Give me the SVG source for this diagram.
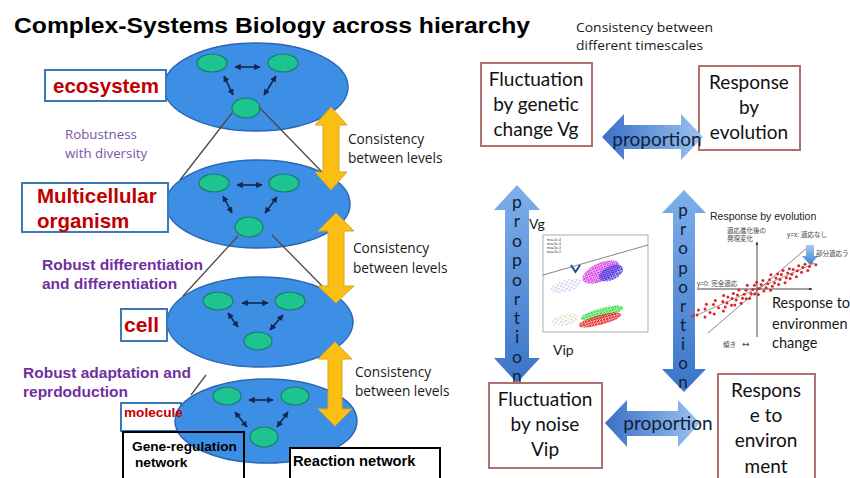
<svg xmlns="http://www.w3.org/2000/svg" width="850" height="478" viewBox="0 0 850 478">
<defs>
<marker id="ah" viewBox="0 0 10 10" refX="9" refY="5" markerWidth="4" markerHeight="4" orient="auto-start-reverse"><path d="M0,0 L10,5 L0,10 z" fill="#14264f"/></marker>
<marker id="axh" viewBox="0 0 10 10" refX="9" refY="5" markerWidth="4" markerHeight="4" orient="auto"><path d="M0,1 L10,5 L0,9 z" fill="#333"/></marker>
<linearGradient id="gh" x1="0" y1="0" x2="1" y2="0"><stop offset="0" stop-color="#3a6fc6"/><stop offset="1" stop-color="#9cc4ef"/></linearGradient>
<linearGradient id="gv" x1="0" y1="0" x2="0" y2="1"><stop offset="0" stop-color="#7eb0ea"/><stop offset="1" stop-color="#3a74c8"/></linearGradient>
<linearGradient id="gd" x1="0" y1="0" x2="0" y2="1"><stop offset="0" stop-color="#a8cdf0"/><stop offset="1" stop-color="#3b7fd0"/></linearGradient>
<pattern id="pMag" width="3" height="2.6" patternUnits="userSpaceOnUse"><rect x="0" y="0" width="2.1" height="1.8" fill="#e03ce0"/><rect x="1.5" y="1.3" width="2.1" height="1.8" fill="#c95ae8"/></pattern>
<pattern id="pBlu" width="3" height="2.6" patternUnits="userSpaceOnUse"><rect x="0" y="0" width="2.1" height="1.8" fill="#3b3ee0"/><rect x="1.5" y="1.3" width="2.1" height="1.8" fill="#6a4ae6"/></pattern>
<pattern id="pGrn" width="3" height="2.6" patternUnits="userSpaceOnUse"><rect x="0" y="0" width="2.1" height="1.8" fill="#2fdc3a"/><rect x="1.5" y="1.3" width="2.1" height="1.8" fill="#62e06a"/></pattern>
<pattern id="pRed" width="3" height="2.6" patternUnits="userSpaceOnUse"><rect x="0" y="0" width="2.1" height="1.8" fill="#e82020"/><rect x="1.5" y="1.3" width="2.1" height="1.8" fill="#f04545"/></pattern>
<pattern id="pFadeP" width="5" height="4" patternUnits="userSpaceOnUse"><rect x="0" y="0" width="1.6" height="1.6" fill="#d6a8e8"/><rect x="2.5" y="2" width="1.6" height="1.6" fill="#b8b6ec"/></pattern>
<pattern id="pFadeR" width="5" height="4" patternUnits="userSpaceOnUse"><rect x="0" y="0" width="1.6" height="1.6" fill="#f0b0b0"/><rect x="2.5" y="2" width="1.6" height="1.6" fill="#b0e8b4"/></pattern>
</defs>
<style>
.lvl{fill:#3d8fe6;stroke:#2a66b5;stroke-width:1.5}
.gr{fill:#1ec48f;stroke:#1a7d6a;stroke-width:1.2}
.ia{stroke:#14264f;stroke-width:1.6;fill:none;marker-start:url(#ah);marker-end:url(#ah)}
.con{stroke:#4a4a4a;stroke-width:1.3;fill:none}
.ya{fill:#fbbe12;stroke:#d9a520;stroke-width:1}
.lb{fill:#fff;stroke:#3a7ab8;stroke-width:2}
.red{font-family:"Liberation Sans",Arial,sans-serif;font-weight:bold;fill:#c00000}
.pb{font-family:"Liberation Sans",Arial,sans-serif;font-weight:bold;fill:#7030a0;font-size:15.5px}
.os{font-family:"Open Sans","Noto Sans",sans-serif;fill:#1a1a1a}
.cal{font-family:Lato,"Open Sans",sans-serif;fill:#1a1a1a}
.rb{fill:#fff;stroke:#b07070;stroke-width:2}
.bt{font-family:Lato,"Open Sans",sans-serif;font-size:19px;fill:#111;text-anchor:middle}
.pv{font-family:Lato,"Open Sans",sans-serif;fill:#10203a;text-anchor:middle}
.jp{font-family:"Liberation Sans","Noto Sans CJK JP",sans-serif;font-size:6.5px;fill:#444}
.rd{fill:#e02424}
</style>
<rect width="850" height="478" fill="#fff"/>

<text x="14" y="33" font-family="Liberation Sans,Arial,sans-serif" font-weight="bold" font-size="22.5" textLength="516" lengthAdjust="spacingAndGlyphs" fill="#000">Complex-Systems Biology across hierarchy</text>

<g id="level-ecosystem">
<ellipse class="lvl" cx="256" cy="87" rx="92" ry="44"/>
<ellipse class="gr" cx="212" cy="63" rx="15" ry="9"/>
<ellipse class="gr" cx="283" cy="63" rx="15" ry="9"/>
<ellipse class="gr" cx="246" cy="108" rx="14" ry="10"/>
<line class="ia" x1="235" y1="67" x2="260" y2="67"/>
<line class="ia" x1="224" y1="76" x2="233" y2="95"/>
<line class="ia" x1="276" y1="76" x2="264" y2="95"/>
</g>
<g id="level-multicellular">
<ellipse class="lvl" cx="258" cy="204" rx="92" ry="44"/>
<ellipse class="gr" cx="214" cy="183" rx="15" ry="9"/>
<ellipse class="gr" cx="284" cy="183" rx="15" ry="9"/>
<ellipse class="gr" cx="249" cy="227" rx="14" ry="10"/>
<line class="ia" x1="237" y1="185" x2="262" y2="185"/>
<line class="ia" x1="223" y1="196" x2="232" y2="213"/>
<line class="ia" x1="277" y1="197" x2="265" y2="213"/>
</g>
<g id="level-cell">
<ellipse class="lvl" cx="260" cy="322" rx="93" ry="45"/>
<ellipse class="gr" cx="218" cy="301" rx="15" ry="9"/>
<ellipse class="gr" cx="290" cy="301" rx="15" ry="9"/>
<ellipse class="gr" cx="258" cy="341" rx="14" ry="9"/>
<line class="ia" x1="242" y1="303" x2="268" y2="303"/>
<line class="ia" x1="228" y1="313" x2="238" y2="327"/>
<line class="ia" x1="283" y1="315" x2="270" y2="330"/>
</g>
<g id="label-molecule-box">
<rect class="lb" x="121" y="403" width="60" height="28"/>
</g>
<g id="level-molecule">
<ellipse class="lvl" cx="266" cy="421" rx="91" ry="42"/>
<ellipse class="gr" cx="227" cy="396" rx="14" ry="9"/>
<ellipse class="gr" cx="295" cy="396" rx="14" ry="9"/>
<ellipse class="gr" cx="264" cy="437" rx="14" ry="10"/>
<line class="ia" x1="249" y1="400" x2="273" y2="400"/>
<line class="ia" x1="235" y1="412" x2="247" y2="427"/>
<line class="ia" x1="288" y1="412" x2="277" y2="427"/>
</g>

<g id="connectors">
<line class="con" x1="232" y1="113" x2="180" y2="180"/>
<line class="con" x1="259" y1="107" x2="322" y2="172"/>
<line class="con" x1="238" y1="236" x2="183" y2="296"/>
<line class="con" x1="272" y1="235" x2="326" y2="290"/>
<line class="con" x1="206" y1="375" x2="191" y2="395"/>
</g>

<g id="consistency-1">
<polygon class="ya" points="331,107 347,125 339,125 339,172 347,172 331,190 315,172 323,172 323,125 315,125"/>
<text class="os" x="348" y="144" font-size="13.7">Consistency</text>
<text class="os" x="348" y="163" font-size="13.7">between levels</text>
</g>
<g id="consistency-2">
<polygon class="ya" points="336,213 354,231 344,231 344,286 354,286 336,303 318,286 328,286 328,231 318,231"/>
<text class="os" x="353" y="253" font-size="13.7">Consistency</text>
<text class="os" x="353" y="273" font-size="13.7">between levels</text>
</g>
<g id="consistency-3">
<polygon class="ya" points="335,342 352,359 342,359 342,409 352,409 335,426 318,409 328,409 328,359 318,359"/>
<text class="os" x="355" y="377" font-size="13.7">Consistency</text>
<text class="os" x="355" y="396" font-size="13.7">between levels</text>
</g>

<g id="label-ecosystem">
<rect class="lb" x="45" y="70" width="121" height="31"/>
<text class="red" x="53" y="93" font-size="20.5">ecosystem</text>
</g>
<g id="note-robustness">
<text x="65" y="139" font-family="'Open Sans','Noto Sans',sans-serif" font-size="13.3" fill="#7a55a5">Robustness</text>
<text x="65" y="158" font-family="'Open Sans','Noto Sans',sans-serif" font-size="13.3" fill="#7a55a5">with diversity</text>
</g>
<g id="label-multicellular">
<rect class="lb" x="22" y="183" width="146" height="49"/>
<text class="red" x="37" y="203" font-size="20.5">Multicellular</text>
<text class="red" x="37" y="228" font-size="20.5">organism</text>
</g>
<g id="note-differentiation">
<text class="pb" x="42" y="270">Robust differentiation</text>
<text class="pb" x="42" y="289">and differentiation</text>
</g>
<g id="label-cell">
<rect class="lb" x="121" y="309" width="46" height="32"/>
<text class="red" x="124" y="332" font-size="21">cell</text>
</g>
<g id="note-adaptation">
<text class="pb" x="23" y="378">Robust adaptation and</text>
<text class="pb" x="23" y="397">reprdoduction</text>
</g>
<g id="label-molecule">
<text class="red" x="124" y="417" font-size="13.6">molecule</text>
</g>
<g id="label-gene-regulation">
<rect x="123" y="432" width="121" height="60" fill="none" stroke="#000" stroke-width="2"/>
<text x="132" y="451" font-family="Liberation Sans,Arial,sans-serif" font-weight="bold" font-size="13.7" fill="#000">Gene-regulation</text>
<text x="135" y="467" font-family="Liberation Sans,Arial,sans-serif" font-weight="bold" font-size="13.7" fill="#000">network</text>
</g>
<g id="label-reaction">
<rect x="290" y="448" width="150" height="40" fill="#fff" stroke="#000" stroke-width="2"/>
<text x="293" y="466" font-family="Liberation Sans,Arial,sans-serif" font-weight="bold" font-size="14.7" fill="#000">Reaction network</text>
</g>

<g id="note-timescales">
<text class="os" x="576" y="32" font-size="12.5" textLength="137" lengthAdjust="spacingAndGlyphs">Consistency between</text>
<text class="os" x="576" y="50" font-size="12.5" textLength="127" lengthAdjust="spacingAndGlyphs">different timescales</text>
</g>
<g id="box-vg">
<rect class="rb" x="481" y="63" width="111" height="83"/>
<text class="bt" x="536" y="86">Fluctuation</text>
<text class="bt" x="536" y="111">by genetic</text>
<text class="bt" x="536" y="136">change Vg</text>
</g>
<g id="box-evolution">
<rect class="rb" x="699" y="66" width="101" height="84"/>
<text class="bt" x="749" y="89">Response</text>
<text class="bt" x="749" y="114">by</text>
<text class="bt" x="749" y="139">evolution</text>
</g>
<g id="arrow-top">
<polygon fill="url(#gh)" points="602,137 624,114 624,125 681,125 681,114 703,137 681,160 681,149 624,149 624,160"/>
<text class="pv" x="657" y="146" font-size="19">proportion</text>
</g>
<g id="arrow-left">
<polygon fill="url(#gv)" points="517,185 540,210 529,210 529,358 540,358 517,383 494,358 505,358 505,210 494,210"/>
<text class="pv" font-size="17.5" x="517" y="208">p</text>
<text class="pv" font-size="17.5" x="517" y="227">r</text>
<text class="pv" font-size="17.5" x="517" y="247">o</text>
<text class="pv" font-size="17.5" x="517" y="266">p</text>
<text class="pv" font-size="17.5" x="517" y="286">o</text>
<text class="pv" font-size="17.5" x="517" y="305">r</text>
<text class="pv" font-size="17.5" x="517" y="324">t</text>
<text class="pv" font-size="17.5" x="517" y="343">i</text>
<text class="pv" font-size="17.5" x="517" y="363">o</text>
<text class="pv" font-size="17.5" x="517" y="382">n</text>
</g>
<g id="arrow-right">
<polygon fill="url(#gv)" points="684,190 706,213 695,213 695,369 706,369 684,392 662,369 673,369 673,213 662,213"/>
<text class="pv" font-size="17" x="683" y="216">p</text>
<text class="pv" font-size="17" x="683" y="235">r</text>
<text class="pv" font-size="17" x="683" y="254">o</text>
<text class="pv" font-size="17" x="683" y="274">p</text>
<text class="pv" font-size="17" x="683" y="293">o</text>
<text class="pv" font-size="17" x="683" y="312">r</text>
<text class="pv" font-size="17" x="683" y="331">t</text>
<text class="pv" font-size="17" x="683" y="350">i</text>
<text class="pv" font-size="17" x="683" y="369">o</text>
<text class="pv" font-size="17" x="683" y="388">n</text>
</g>

<g id="plot-vg-vip">
<text class="cal" x="529" y="229" font-size="14">Vg</text>
<text class="cal" x="553" y="355" font-size="14">Vip</text>
<rect x="543" y="235" width="105" height="97" fill="#fff" stroke="#999" stroke-width="0.8"/>
<line x1="543" y1="275" x2="648" y2="245" stroke="#666" stroke-width="0.8"/>
<polyline points="571,265 575.5,272 580,265" fill="none" stroke="#2a4a8a" stroke-width="2"/>
<ellipse cx="566" cy="286" rx="16" ry="6" transform="rotate(-15 566 286)" fill="url(#pFadeP)"/>
<ellipse cx="565" cy="320" rx="14" ry="6" transform="rotate(-12 565 320)" fill="url(#pFadeR)"/>
<ellipse cx="601" cy="272" rx="20" ry="9" transform="rotate(-25 601 272)" fill="url(#pMag)"/>
<ellipse cx="611" cy="273" rx="13" ry="7" transform="rotate(-25 611 273)" fill="url(#pBlu)"/>
<ellipse cx="602" cy="313" rx="22" ry="5" transform="rotate(-15 602 313)" fill="url(#pGrn)"/>
<ellipse cx="600" cy="320" rx="22" ry="5" transform="rotate(-15 600 320)" fill="url(#pRed)"/>
<g font-family="Liberation Sans,Arial,sans-serif" font-size="3.5" fill="#333">
<text x="547" y="241">mu=1e-4</text>
<text x="547" y="245">mu=5e-4</text>
<text x="547" y="249">mu=5e-3</text>
<text x="547" y="253">mu=1e-2</text>
</g>
</g>

<g id="plot-response">
<text x="710" y="220" font-family="Liberation Sans,Arial,sans-serif" font-size="10.5" fill="#222">Response by evolution</text>
<line x1="757" y1="337" x2="757" y2="242" stroke="#333" stroke-width="0.9" marker-end="url(#axh)"/>
<line x1="697" y1="289" x2="812" y2="289" stroke="#333" stroke-width="0.9" marker-end="url(#axh)"/>
<line x1="708" y1="333" x2="808" y2="247" stroke="#555" stroke-width="0.7"/>
<line x1="697" y1="315" x2="815" y2="263" stroke="#555" stroke-width="0.6"/>
<g class="rd">
<circle cx="693" cy="316" r="1.5"/><circle cx="697" cy="315" r="1.5"/><circle cx="698.4" cy="310" r="1.5"/><circle cx="705" cy="317" r="1.5"/>
<circle cx="705" cy="309" r="1.5"/><circle cx="710" cy="312.5" r="1.5"/><circle cx="706.4" cy="304.3" r="1.5"/><circle cx="714.2" cy="314" r="1.5"/>
<circle cx="713.5" cy="304.5" r="1.5"/><circle cx="718.5" cy="307.7" r="1.5"/><circle cx="715.3" cy="300.4" r="1.5"/><circle cx="723.4" cy="311" r="1.5"/>
<circle cx="722.8" cy="301.5" r="1.5"/><circle cx="725.2" cy="307" r="1.5"/><circle cx="723.7" cy="295.6" r="1.5"/><circle cx="727" cy="303" r="1.5"/>
<circle cx="731.5" cy="305.3" r="1.5"/><circle cx="727.9" cy="297" r="1.5"/><circle cx="732" cy="298.5" r="1.5"/><circle cx="734.8" cy="304.9" r="1.5"/>
<circle cx="736.2" cy="300" r="1.5"/><circle cx="733.4" cy="293.5" r="1.5"/><circle cx="741.1" cy="303.2" r="1.5"/><circle cx="737.5" cy="295" r="1.5"/>
<circle cx="742.5" cy="298.2" r="1.5"/><circle cx="738.9" cy="290" r="1.5"/><circle cx="744.2" cy="294.2" r="1.5"/><circle cx="746.2" cy="298.8" r="1.5"/>
<circle cx="746" cy="290.2" r="1.5"/><circle cx="749.6" cy="298.4" r="1.5"/><circle cx="751" cy="293.4" r="1.5"/><circle cx="747.3" cy="285.2" r="1.5"/>
<circle cx="752.7" cy="289.4" r="1.5"/><circle cx="754.7" cy="294" r="1.5"/><circle cx="754.4" cy="285.3" r="1.5"/><circle cx="758.4" cy="294.5" r="1.5"/>
<circle cx="759.4" cy="288.6" r="1.5"/><circle cx="756.6" cy="282.2" r="1.5"/><circle cx="763.9" cy="291" r="1.5"/><circle cx="761.1" cy="284.6" r="1.5"/>
<circle cx="762.9" cy="280.5" r="1.5"/><circle cx="766.1" cy="287.8" r="1.5"/><circle cx="767.8" cy="283.8" r="1.5"/><circle cx="770.6" cy="290.2" r="1.5"/>
<circle cx="769.6" cy="279.8" r="1.5"/><circle cx="772.4" cy="286.2" r="1.5"/><circle cx="770.9" cy="274.8" r="1.5"/><circle cx="774.5" cy="283" r="1.5"/>
<circle cx="778.7" cy="284.5" r="1.5"/><circle cx="775.9" cy="278.1" r="1.5"/><circle cx="777.6" cy="274" r="1.5"/><circle cx="780" cy="279.5" r="1.5"/>
<circle cx="785" cy="282.8" r="1.5"/><circle cx="781.4" cy="274.6" r="1.5"/><circle cx="783.1" cy="270.5" r="1.5"/><circle cx="786.3" cy="277.8" r="1.5"/>
<circle cx="790.1" cy="278.4" r="1.5"/><circle cx="787.7" cy="272.9" r="1.5"/><circle cx="789.4" cy="268.8" r="1.5"/><circle cx="791.8" cy="274.3" r="1.5"/>
<circle cx="796.4" cy="276.7" r="1.5"/><circle cx="793.2" cy="269.4" r="1.5"/><circle cx="797.3" cy="270.8" r="1.5"/><circle cx="798.7" cy="265.8" r="1.5"/>
<circle cx="801.5" cy="272.2" r="1.5"/><circle cx="802.8" cy="267.3" r="1.5"/><circle cx="807.8" cy="270.6" r="1.5"/><circle cx="805" cy="264.2" r="1.5"/>
<circle cx="809.5" cy="266.5" r="1.5"/><circle cx="811.3" cy="262.5" r="1.5"/><circle cx="815.8" cy="264.8" r="1.5"/>
</g>
<polygon points="806,245 814,245 814,256 818,256 810,265 802,256 806,256" fill="url(#gd)"/>
<text class="jp" x="727" y="233">適応進化後の</text>
<text class="jp" x="727" y="241">発現変化</text>
<text class="jp" x="787" y="237">y=x: 適応なし</text>
<text class="jp" x="816" y="256" fill="#4a90d0">部分適応ラ</text>
<text class="jp" x="697" y="286">y=0: 完全適応</text>
<text class="jp" x="723" y="347" font-size="7">傾き</text>
<text x="742" y="347" font-family="DejaVu Sans,sans-serif" font-size="9" fill="#444">↔</text>
<text class="cal" x="772" y="308" font-size="14.5">Response to</text>
<text class="cal" x="772" y="329" font-size="14.5">environmen</text>
<text class="cal" x="772" y="348" font-size="14.5">change</text>
</g>

<g id="box-vip">
<rect class="rb" x="489" y="383" width="113" height="85"/>
<text class="bt" x="545" y="406">Fluctuation</text>
<text class="bt" x="545" y="431">by noise</text>
<text class="bt" x="545" y="456">Vip</text>
</g>
<g id="arrow-bottom">
<polygon fill="url(#gh)" points="605,423 627,400 627,411 678,411 678,400 700,423 678,447 678,436 627,436 627,447"/>
<text class="pv" x="668" y="430" font-size="19">proportion</text>
</g>
<g id="box-environment">
<rect class="rb" x="718" y="374" width="97" height="114"/>
<text class="bt" x="766" y="397">Respons</text>
<text class="bt" x="766" y="422">e to</text>
<text class="bt" x="766" y="447">environ</text>
<text class="bt" x="766" y="473">ment</text>
</g>
</svg>
